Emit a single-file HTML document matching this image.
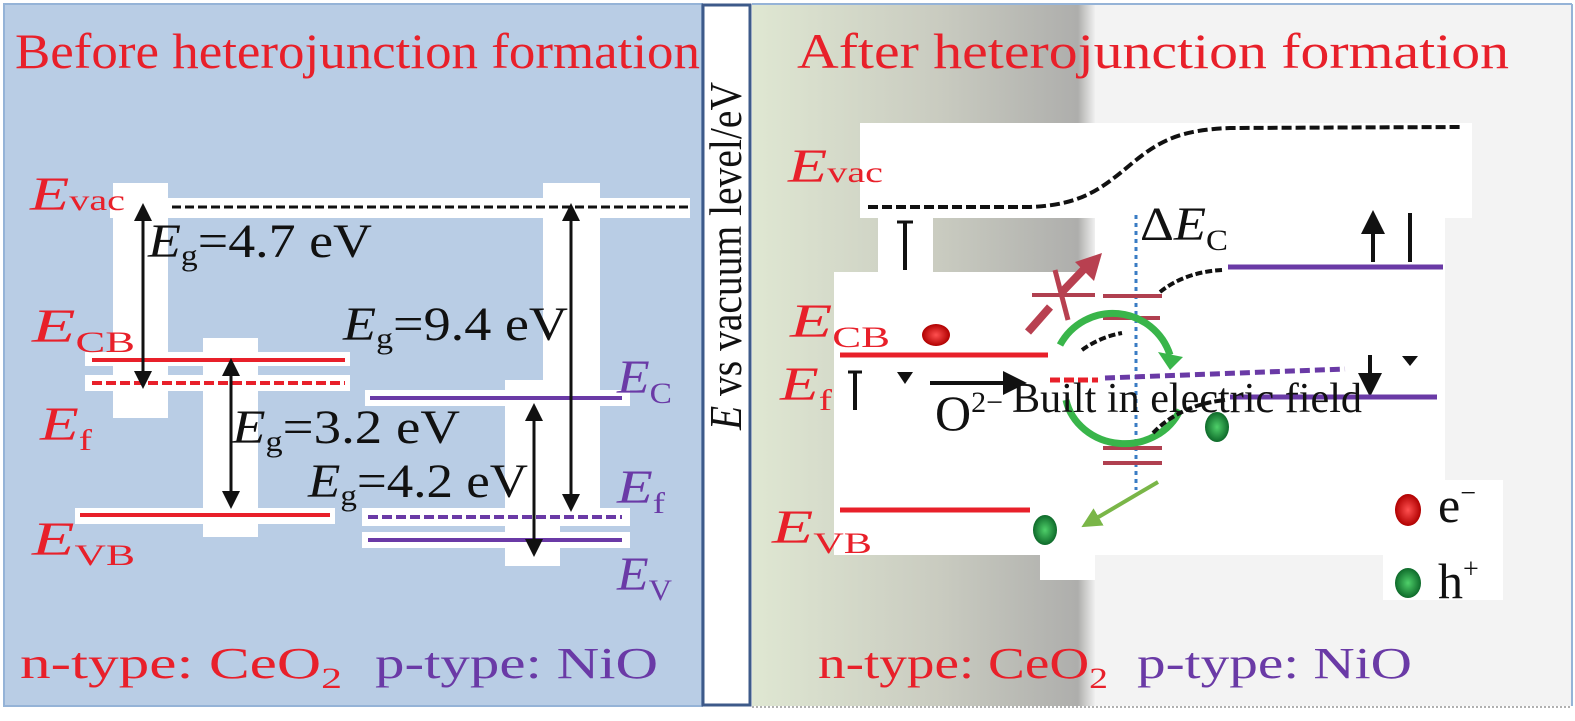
<!DOCTYPE html>
<html><head><meta charset="utf-8"><style>
html,body{margin:0;padding:0;background:#fff;width:1575px;height:721px;overflow:hidden}
svg{display:block}
text{font-family:"Liberation Serif",serif}
</style></head><body>
<svg width="1575" height="721" viewBox="0 0 1575 721" xmlns="http://www.w3.org/2000/svg">
<defs>
<linearGradient id="rg" x1="0" x2="1" y1="0" y2="0">
<stop offset="0" stop-color="#dfe7d2"/><stop offset="0.55" stop-color="#c9cbc0"/><stop offset="0.95" stop-color="#aeaeac"/><stop offset="1" stop-color="#f0f0f0"/>
</linearGradient>
<marker id="ah" markerWidth="6" markerHeight="6" refX="3" refY="3" orient="auto-start-reverse" markerUnits="strokeWidth"><path d="M0,0 L6,3 L0,6 z" fill="#111"/></marker>
<marker id="gh" markerWidth="5" markerHeight="5" refX="2.5" refY="2.5" orient="auto" markerUnits="strokeWidth"><path d="M0,0 L5,2.5 L0,5 z" fill="#7ab648"/></marker>
<radialGradient id="red"><stop offset="0" stop-color="#ff5050"/><stop offset="1" stop-color="#b00000"/></radialGradient>
<radialGradient id="grn"><stop offset="0" stop-color="#4fd06a"/><stop offset="1" stop-color="#0e6a2a"/></radialGradient>
</defs>
<rect x="4" y="4" width="698" height="702" fill="#b9cde5" stroke="#95b3d7" stroke-width="2"/>
<text x="15" y="68" font-size="50" fill="#e8202a" textLength="685" lengthAdjust="spacingAndGlyphs">Before heterojunction formation</text>
<rect x="110" y="198" width="580" height="20" fill="#fff"/>
<rect x="113" y="183" width="55" height="235" fill="#fff"/>
<rect x="203" y="338" width="55" height="199" fill="#fff"/>
<rect x="543" y="183" width="57" height="342" fill="#fff"/>
<rect x="505" y="380" width="55" height="186" fill="#fff"/>
<rect x="85" y="352" width="265" height="14" fill="#fff"/>
<rect x="85" y="375" width="265" height="16" fill="#fff"/>
<rect x="75" y="508" width="260" height="16" fill="#fff"/>
<rect x="365" y="390" width="265" height="16" fill="#fff"/>
<rect x="362" y="508" width="268" height="18" fill="#fff"/>
<rect x="362" y="532" width="268" height="16" fill="#fff"/>
<line x1="172" y1="207" x2="688" y2="207" stroke="#111" stroke-width="3" stroke-dasharray="9,4"/>
<line x1="92" y1="360" x2="345" y2="360" stroke="#e8202a" stroke-width="4"/>
<line x1="92" y1="383" x2="345" y2="383" stroke="#e8202a" stroke-width="4" stroke-dasharray="10,4"/>
<line x1="80" y1="515" x2="330" y2="515" stroke="#e8202a" stroke-width="4"/>
<line x1="370" y1="398" x2="622" y2="398" stroke="#6a3aa6" stroke-width="4"/>
<line x1="368" y1="517" x2="622" y2="517" stroke="#6a3aa6" stroke-width="4" stroke-dasharray="10,4"/>
<line x1="368" y1="540" x2="622" y2="540" stroke="#6a3aa6" stroke-width="4"/>
<line x1="143" y1="212" x2="143" y2="380" stroke="#111" stroke-width="3" marker-start="url(#ah)" marker-end="url(#ah)"/>
<line x1="231" y1="367" x2="231" y2="500" stroke="#111" stroke-width="3" marker-start="url(#ah)" marker-end="url(#ah)"/>
<line x1="571" y1="212" x2="571" y2="503" stroke="#111" stroke-width="3" marker-start="url(#ah)" marker-end="url(#ah)"/>
<line x1="534" y1="412" x2="534" y2="548" stroke="#111" stroke-width="3" marker-start="url(#ah)" marker-end="url(#ah)"/>
<g fill="#e8202a" font-size="48">
<text x="30" y="210" textLength="95" lengthAdjust="spacingAndGlyphs"><tspan font-style="italic">E</tspan><tspan font-size="30">vac</tspan></text>
<text x="32" y="342" textLength="103" lengthAdjust="spacingAndGlyphs"><tspan font-style="italic">E</tspan><tspan font-size="30" dy="10">CB</tspan></text>
<text x="40" y="440" textLength="52" lengthAdjust="spacingAndGlyphs"><tspan font-style="italic">E</tspan><tspan font-size="30" dy="10">f</tspan></text>
<text x="32" y="555" textLength="103" lengthAdjust="spacingAndGlyphs"><tspan font-style="italic">E</tspan><tspan font-size="30" dy="10">VB</tspan></text>
</g>
<g fill="#6a3aa6" font-size="48">
<text x="617" y="393" textLength="55" lengthAdjust="spacingAndGlyphs"><tspan font-style="italic">E</tspan><tspan font-size="30" dy="10">C</tspan></text>
<text x="617" y="503" textLength="48" lengthAdjust="spacingAndGlyphs"><tspan font-style="italic">E</tspan><tspan font-size="30" dy="10">f</tspan></text>
<text x="617" y="590" textLength="55" lengthAdjust="spacingAndGlyphs"><tspan font-style="italic">E</tspan><tspan font-size="30" dy="10">V</tspan></text>
</g>
<g fill="#111" font-size="48">
<text x="148" y="257" textLength="224" lengthAdjust="spacingAndGlyphs"><tspan font-style="italic">E</tspan><tspan font-size="30" dy="8">g</tspan><tspan dy="-8">=4.7 eV</tspan></text>
<text x="343" y="340" textLength="225" lengthAdjust="spacingAndGlyphs"><tspan font-style="italic">E</tspan><tspan font-size="30" dy="8">g</tspan><tspan dy="-8">=9.4 eV</tspan></text>
<text x="232" y="443" textLength="228" lengthAdjust="spacingAndGlyphs"><tspan font-style="italic">E</tspan><tspan font-size="30" dy="8">g</tspan><tspan dy="-8">=3.2 eV</tspan></text>
<text x="308" y="497" textLength="220" lengthAdjust="spacingAndGlyphs"><tspan font-style="italic">E</tspan><tspan font-size="30" dy="8">g</tspan><tspan dy="-8">=4.2 eV</tspan></text>
</g>
<text x="20" y="678" font-size="44" fill="#e8202a" textLength="322" lengthAdjust="spacingAndGlyphs">n-type: CeO<tspan font-size="30" dy="10">2</tspan></text>
<text x="375" y="678" font-size="44" fill="#6a3aa6" textLength="283" lengthAdjust="spacingAndGlyphs">p-type: NiO</text>
<rect x="703" y="5" width="47" height="700" fill="#fff" stroke="#3d5a8a" stroke-width="3"/>
<text transform="translate(741,430) rotate(-90)" font-size="46" fill="#111" textLength="348" lengthAdjust="spacingAndGlyphs"><tspan font-style="italic">E</tspan> vs vacuum level/eV</text>
<rect x="752" y="4" width="343" height="702" fill="url(#rg)"/>
<rect x="1095" y="4" width="477" height="702" fill="#f3f3f3"/>
<line x1="752" y1="4" x2="1572" y2="4" stroke="#95b3d7" stroke-width="2"/>
<line x1="1572" y1="4" x2="1572" y2="706" stroke="#95b3d7" stroke-width="2"/>
<line x1="752" y1="707" x2="1572" y2="707" stroke="#b0b0b0" stroke-width="2" stroke-dasharray="2,2"/>
<rect x="860" y="123" width="612" height="95" fill="#fff"/>
<rect x="878" y="216" width="55" height="58" fill="#fff"/>
<rect x="1095" y="212" width="350" height="343" fill="#fff"/>
<rect x="834" y="272" width="262" height="283" fill="#fff"/>
<rect x="1040" y="550" width="55" height="30" fill="#fff"/>
<rect x="1383" y="480" width="120" height="120" fill="#fff"/>
<text x="797" y="68" font-size="50" fill="#e8202a" textLength="712" lengthAdjust="spacingAndGlyphs">After heterojunction formation</text>
<path d="M868,207 L1030,207 C1080,205 1100,190 1130,165 C1160,140 1180,130 1230,128 L1462,127" fill="none" stroke="#111" stroke-width="4" stroke-dasharray="10,4"/>
<g fill="#e8202a" font-size="48">
<text x="788" y="182" textLength="95" lengthAdjust="spacingAndGlyphs"><tspan font-style="italic">E</tspan><tspan font-size="30">vac</tspan></text>
<text x="790" y="337" textLength="100" lengthAdjust="spacingAndGlyphs"><tspan font-style="italic">E</tspan><tspan font-size="30" dy="10">CB</tspan></text>
<text x="780" y="400" textLength="52" lengthAdjust="spacingAndGlyphs"><tspan font-style="italic">E</tspan><tspan font-size="30" dy="10">f</tspan></text>
<text x="772" y="543" textLength="100" lengthAdjust="spacingAndGlyphs"><tspan font-style="italic">E</tspan><tspan font-size="30" dy="10">VB</tspan></text>
</g>
<line x1="905" y1="222" x2="905" y2="270" stroke="#111" stroke-width="4"/>
<line x1="897" y1="222" x2="913" y2="222" stroke="#111" stroke-width="3"/>
<line x1="1373" y1="262" x2="1373" y2="222" stroke="#111" stroke-width="4" marker-end="url(#ah)"/>
<line x1="1410" y1="213" x2="1410" y2="262" stroke="#111" stroke-width="4"/>
<line x1="1228" y1="267" x2="1443" y2="267" stroke="#6a3aa6" stroke-width="5"/>
<line x1="1136" y1="215" x2="1136" y2="490" stroke="#3a7cc4" stroke-width="3" stroke-dasharray="4,4"/>
<text x="1140" y="240" font-size="48" fill="#111" textLength="88" lengthAdjust="spacingAndGlyphs">Δ<tspan font-style="italic">E</tspan><tspan font-size="30" dy="10">C</tspan></text>
<line x1="1032" y1="295" x2="1095" y2="295" stroke="#b04050" stroke-width="4"/>
<line x1="1103" y1="296" x2="1162" y2="296" stroke="#b04050" stroke-width="4"/>
<line x1="1103" y1="318" x2="1160" y2="318" stroke="#b04050" stroke-width="4"/>
<line x1="1103" y1="448" x2="1162" y2="448" stroke="#b04050" stroke-width="4"/>
<line x1="1103" y1="463" x2="1162" y2="463" stroke="#b04050" stroke-width="4"/>
<path d="M1028,332 L1050,307 M1062,292 L1085,268" stroke="#b84050" stroke-width="8" fill="none"/>
<path d="M1075,262 L1102,253 L1094,281 z" fill="#b84050"/>
<line x1="1055" y1="270" x2="1068" y2="320" stroke="#b84050" stroke-width="5"/>
<line x1="840" y1="355" x2="1048" y2="355" stroke="#e8202a" stroke-width="5"/>
<ellipse cx="936" cy="335" rx="14" ry="11" fill="url(#red)"/>
<path d="M1060,345 A60,60 0 0 1 1170,355" fill="none" stroke="#39b54a" stroke-width="7"/>
<path d="M1158,352 L1183,357 L1170,370 z" fill="#39b54a"/>
<path d="M1066,400 A60,55 0 0 0 1180,410" fill="none" stroke="#39b54a" stroke-width="7"/>
<path d="M1082,350 Q1100,337 1122,333" fill="none" stroke="#111" stroke-width="4" stroke-dasharray="7,3"/>
<path d="M1160,292 Q1185,272 1222,270" fill="none" stroke="#111" stroke-width="4" stroke-dasharray="7,3"/>
<path d="M1153,433 Q1180,405 1225,400" fill="none" stroke="#111" stroke-width="4" stroke-dasharray="7,3"/>
<line x1="855" y1="410" x2="855" y2="372" stroke="#111" stroke-width="4"/>
<line x1="848" y1="372" x2="862" y2="372" stroke="#111" stroke-width="3"/>
<path d="M897,372 L913,372 L905,384 z" fill="#111"/>
<line x1="930" y1="383" x2="1015" y2="383" stroke="#111" stroke-width="4" marker-end="url(#ah)"/>
<line x1="1050" y1="380" x2="1098" y2="380" stroke="#e8202a" stroke-width="5" stroke-dasharray="10,4"/>
<line x1="1105" y1="378" x2="1345" y2="369" stroke="#6a3aa6" stroke-width="5" stroke-dasharray="10,5"/>
<line x1="1370" y1="355" x2="1370" y2="385" stroke="#111" stroke-width="4" marker-end="url(#ah)"/>
<path d="M1402,356 L1418,356 L1410,366 z" fill="#111"/>
<line x1="1230" y1="397" x2="1437" y2="397" stroke="#6a3aa6" stroke-width="5"/>
<text x="935" y="430" font-size="50" fill="#111">O<tspan font-size="30" dy="-18">2−</tspan></text>
<text x="1012" y="412" font-size="42" fill="#111" textLength="350" lengthAdjust="spacingAndGlyphs">Built in electric field</text>
<ellipse cx="1217" cy="427" rx="12" ry="15" fill="url(#grn)"/>
<line x1="1158" y1="482" x2="1090" y2="522" stroke="#7ab648" stroke-width="4" marker-end="url(#gh)"/>
<line x1="840" y1="510" x2="1030" y2="510" stroke="#e8202a" stroke-width="5"/>
<ellipse cx="1045" cy="530" rx="12" ry="15" fill="url(#grn)"/>
<ellipse cx="1408" cy="510" rx="13" ry="16" fill="url(#red)"/>
<text x="1438" y="522" font-size="50" fill="#111">e<tspan font-size="28" dy="-20">−</tspan></text>
<ellipse cx="1408" cy="583" rx="13" ry="15" fill="url(#grn)"/>
<text x="1438" y="598" font-size="50" fill="#111">h<tspan font-size="28" dy="-20">+</tspan></text>
<text x="818" y="678" font-size="44" fill="#e8202a" textLength="290" lengthAdjust="spacingAndGlyphs">n-type: CeO<tspan font-size="30" dy="10">2</tspan></text>
<text x="1137" y="678" font-size="44" fill="#6a3aa6" textLength="275" lengthAdjust="spacingAndGlyphs">p-type: NiO</text>
</svg>
</body></html>
